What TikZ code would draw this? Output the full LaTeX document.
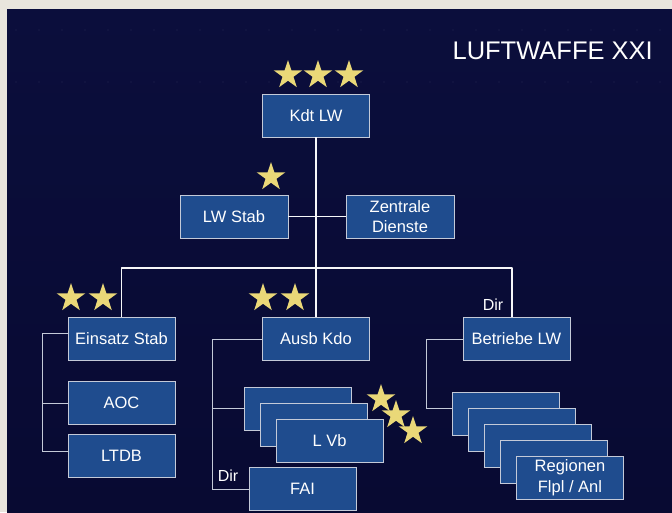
\documentclass[tikz,border=0pt]{standalone}
\usepackage{fontspec}
\setmainfont{Liberation Sans}
\usepackage{tikz}
\usetikzlibrary{shapes.geometric,positioning}
\definecolor{paper}{RGB}{233,229,221}
\definecolor{navytop}{RGB}{11,14,60}
\definecolor{navybot}{RGB}{8,10,50}
\definecolor{unitblue}{RGB}{31,76,142}
\definecolor{edgegrey}{RGB}{196,202,216}
\definecolor{stargold}{RGB}{234,216,120}

\begin{document}
\begin{tikzpicture}[x=1pt,y=-1pt,
        unit/.style={draw=edgegrey, line width=0.7pt, fill=unitblue, text=white,
            minimum width=107pt, minimum height=43pt, inner sep=0pt, align=center,
            font=\fontsize{16.5}{20.5}\selectfont},
        rank/.style={star, star points=5, star point ratio=2.6, fill=stargold,
            minimum size=30pt, inner sep=0pt},
        link/.style={draw=white!85!edgegrey, line width=1.3pt, line join=round},
        twig/.style={draw=edgegrey, line width=0.9pt},
        note/.style={text=white, inner sep=0pt, font=\fontsize{16}{19}\selectfont}]
        \useasboundingbox (0,0) rectangle (672,512);
        \fill[paper] (0,0) rectangle (672,512);
        \shade[top color=navytop, bottom color=navybot] (7,9) rectangle (672,512);
        \foreach \y in {30,82}
            \foreach \x in {16,39,...,670}
                \fill[white, opacity=0.12] (\x,\y) circle (0.6pt);

        \node[text=white, anchor=base east, inner sep=0pt, font=\fontsize{25.5}{30}\selectfont]
            (title) at (653,59) {LUFTWAFFE XXI};

        \node[unit] (kdt) at (316,115.5) {Kdt LW};
        \node[unit, minimum width=108pt] (stab) at (234,216.5) {LW Stab};
        \node[unit, minimum width=108pt] (zd) at (400,216.5) {Zentrale\\Dienste};

        \node[unit] (einsatz) at (121.5,339) {Einsatz Stab};
        \node[unit] (aoc) at (121.5,403) {AOC};
        \node[unit] (ltdb) at (121.5,455.5) {LTDB};

        \node[unit] (ausb) at (316,339) {Ausb Kdo};
        \node[unit] (lvb1) at (297.5,408.5) {};
        \node[unit] (lvb2) at ([shift={(16,16)}]lvb1) {};
        \node[unit] (lvb3) at ([shift={(16,16)}]lvb2) {L Vb};
        \node[unit] (fai) at (302.5,489) {FAI};

        \node[unit] (betr) at (516.5,339) {Betriebe LW};
        \node[unit] (reg1) at (506,413.5) {};
        \foreach \i [count=\j from 2] in {1,...,3}
            \node[unit] (reg\j) at ([shift={(16,16)}]reg\i) {};
        \node[unit] (reg5) at ([shift={(16,16)}]reg4) {Regionen\\Flpl / Anl};

        \node[note] (dirbetr) at (493,304.5) {Dir};
        \node[note] (dirausb) at (228,475.5) {Dir};

        \coordinate (buse) at (512,268);
        \draw[link] (kdt) -- (ausb);
        \draw[link] (stab) -- (zd);
        \draw[link] (einsatz.north) |- (buse) -- (buse |- betr.north);

        \coordinate (etrunk) at (42,0);
        \coordinate (e1) at ([yshift=6pt]einsatz.west);
        \coordinate (e3) at ([yshift=4.5pt]ltdb.west);
        \draw[twig] (e1) -- (e1 -| etrunk) -- (e3 -| etrunk) -- (e3);
        \draw[twig] (aoc.west -| etrunk) -- (aoc.west);

        \coordinate (atrunk) at (212,0);
        \draw[twig] (ausb.west) -- (ausb.west -| atrunk) -- (fai.west -| atrunk) -- (fai.west);
        \draw[twig] (lvb1.west -| atrunk) -- (lvb1.west);

        \coordinate (btrunk) at (426,0);
        \coordinate (b2) at ([yshift=5pt]reg1.west);
        \draw[twig] (betr.west) -- (betr.west -| btrunk) -- (b2 -| btrunk) -- (b2);

        \foreach \x in {288,318,349}
            \node[rank] (kstar\x) at (\x,75) {};
        \node[rank] (sstar) at (271,177) {};
        \foreach \x in {71,103}
            \node[rank] (estar\x) at (\x,298) {};
        \foreach \x in {263,295}
            \node[rank] (astar\x) at (\x,298) {};
        \node[rank] (lstar1) at (381,399) {};
        \node[rank] (lstar2) at (396,415) {};
        \node[rank] (lstar3) at (413,431) {};
\end{tikzpicture}
\end{document}
